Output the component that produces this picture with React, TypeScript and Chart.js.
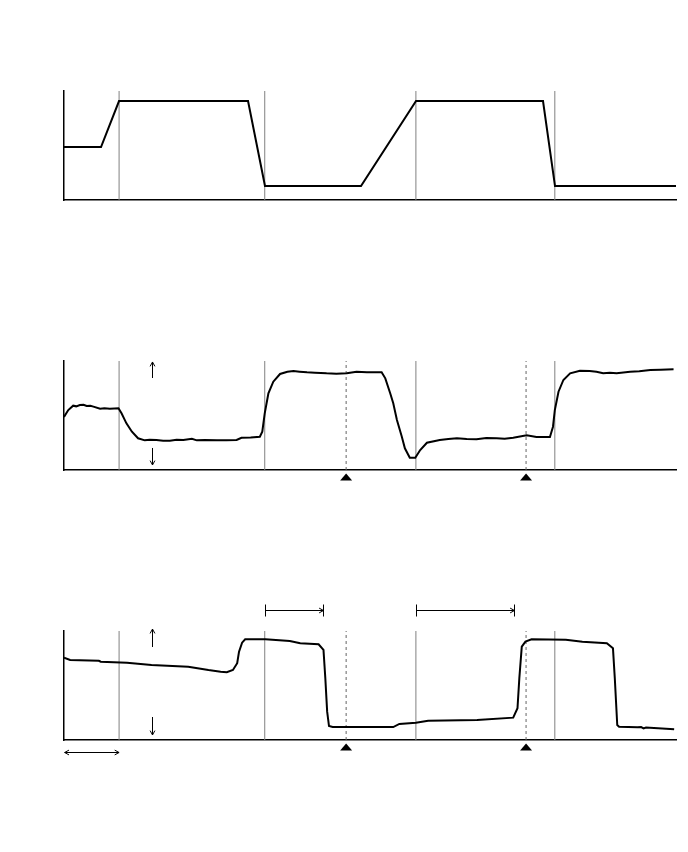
import React, { useEffect, useRef } from "react";
import { Chart, registerables } from "chart.js";

Chart.register(...registerables);

// time axis in % of record length, values in % of panel range
const eventTimes = [9.0, 32.8, 57.5, 80.2];
const markerTimes = [46.1, 75.5];
const markerLevel = -6.4;

const p1Time = [0, 6.05, 8.99, 30.07, 32.84, 48.53, 57.52, 78.27, 80.23, 100];
const p1Value = [48.6, 48.6, 90.8, 90.8, 12.8, 12.8, 90.8, 90.8, 12.8, 12.8];

const p2Time = [
  0.0, 0.7, 1.5, 2.0, 2.6, 3.2, 3.7, 4.3, 4.8, 5.9, 6.6, 7.5, 8.9, 9.4, 10.2, 11.1, 12.1, 13.2, 14.0,
  15.1, 16.2, 17.3, 18.4, 19.5, 20.9, 21.7, 23.0, 25.0, 26.5, 28.2, 29.0, 30.5, 32.0, 32.4, 32.8, 33.4,
  34.2, 35.3, 36.5, 37.5, 38.5, 39.7, 41.0, 42.9, 44.5, 46.2, 47.8, 49.5, 51.9, 52.5, 53.3, 53.8, 54.4,
  55.2, 55.7, 56.5, 57.4, 58.2, 59.3, 61.4, 62.8, 64.2, 65.8, 67.4, 69.0, 70.7, 72.0, 73.4, 75.6, 77.2,
  79.4, 79.9, 80.2, 80.8, 81.6, 82.7, 84.3, 85.9, 87.0, 88.1, 89.2, 90.3, 92.5, 94.0, 95.8, 97.5, 99.6,
];
const p2Value = [
  48.6, 55.0, 59.0, 58.4, 59.6, 59.9, 58.7, 59.0, 58.1, 56.2, 56.6, 56.2, 56.6, 52.0, 42.8, 35.1, 29.1,
  27.2, 27.8, 27.5, 26.9, 26.9, 27.8, 27.5, 28.7, 27.2, 27.5, 27.2, 27.2, 27.5, 29.6, 29.9, 30.5, 35.1,
  52.0, 70.4, 81.0, 88.1, 90.2, 90.8, 90.2, 89.6, 89.3, 88.7, 88.4, 88.7, 90.2, 89.6, 89.6, 84.1, 70.4,
  61.2, 45.9, 30.5, 19.9, 11.3, 11.3, 18.3, 25.0, 27.5, 28.4, 29.1, 28.4, 28.2, 29.3, 29.1, 28.7, 29.6,
  31.8, 30.3, 30.3, 39.7, 55.0, 71.8, 82.6, 88.7, 91.1, 90.8, 90.2, 88.7, 89.3, 88.7, 90.2, 90.5, 91.7,
  92.0, 92.4,
];

const p3Time = [
  0.0, 1.0, 5.7, 6.0, 10.3, 14.3, 20.3, 23.6, 25.6, 26.6, 27.6, 28.3, 28.6, 29.1, 29.6, 32.9, 36.9,
  38.6, 41.6, 42.4, 42.7, 43.0, 43.3, 43.9, 53.8, 54.8, 57.5, 59.5, 67.5, 73.4, 74.1, 74.4, 74.8,
  75.4, 76.4, 82.0, 84.7, 88.7, 89.7, 90.0, 90.4, 90.7, 93.7, 94.3, 94.7, 95.1, 99.7,
];
const p3Value = [
  75.5, 73.4, 72.7, 71.8, 70.9, 68.8, 67.2, 64.2, 62.7, 62.1, 64.2, 70.4, 81.0, 89.3, 92.4, 92.4, 90.8,
  88.7, 87.8, 82.6, 56.6, 26.0, 12.8, 11.9, 11.9, 14.7, 15.9, 17.7, 18.3, 20.5, 29.1, 56.6, 85.6,
  90.2, 92.4, 92.0, 90.2, 88.7, 84.1, 56.6, 13.8, 12.2, 11.7, 11.9, 10.7, 11.5, 9.8,
];

// annotation values (same units)
const rangeArrowTime = 14.4;
const p2UpArrow = [84.4, 99.1];
const p2DownArrow = [20.2, 4.6];
const p3UpArrow = [85.3, 101.8];
const p3DownArrow = [21.1, 4.6];
const p3Brackets = [
  [32.8, 42.3],
  [57.5, 73.5],
];
const bracketLevel = 119.3;
const spanArrow = [0.1, 9.0];
const spanLevel = -11.0;

type Ann = {
  vArrows?: number[][];
  brackets?: number[][];
  spans?: number[][];
  markers?: boolean;
};

function head(ctx: CanvasRenderingContext2D, x: number, y: number, dx: number, dy: number) {
  const len = 5;
  const ang = Math.atan2(dy, dx);
  ctx.beginPath();
  ctx.moveTo(x - len * Math.cos(ang - 0.5), y - len * Math.sin(ang - 0.5));
  ctx.lineTo(x, y);
  ctx.lineTo(x - len * Math.cos(ang + 0.5), y - len * Math.sin(ang + 0.5));
  ctx.stroke();
}

function makeAnnPlugin(ann: Ann) {
  return {
    id: "ann",
    afterDatasetsDraw(chart: any) {
      const xs = chart.scales.x;
      const ys = chart.scales.y;
      const ctx: CanvasRenderingContext2D = chart.ctx;
      ctx.save();
      ctx.strokeStyle = "#000";
      ctx.fillStyle = "#000";
      ctx.lineWidth = 1;
      if (ann.markers) {
        markerTimes.forEach((t) => {
          const x = xs.getPixelForValue(t);
          const y = ys.getPixelForValue(markerLevel);
          ctx.beginPath();
          ctx.moveTo(x, y - 3.5);
          ctx.lineTo(x + 6, y + 3.5);
          ctx.lineTo(x - 6, y + 3.5);
          ctx.closePath();
          ctx.fill();
        });
      }
      (ann.vArrows || []).forEach(([from, to]) => {
        const x = Math.round(xs.getPixelForValue(rangeArrowTime)) + 0.5;
        const y0 = ys.getPixelForValue(from);
        const y1 = ys.getPixelForValue(to);
        ctx.beginPath();
        ctx.moveTo(x, y0);
        ctx.lineTo(x, y1);
        ctx.stroke();
        head(ctx, x, y1, 0, y1 - y0);
      });
      (ann.brackets || []).forEach(([a, b]) => {
        const x0 = Math.round(xs.getPixelForValue(a)) + 0.5;
        const x1 = Math.round(xs.getPixelForValue(b)) + 0.5;
        const y = Math.round(ys.getPixelForValue(bracketLevel)) + 0.5;
        ctx.beginPath();
        ctx.moveTo(x0, y);
        ctx.lineTo(x1, y);
        ctx.moveTo(x0, y - 6);
        ctx.lineTo(x0, y + 6);
        ctx.moveTo(x1, y - 6);
        ctx.lineTo(x1, y + 6);
        ctx.stroke();
        head(ctx, x1, y, 1, 0);
      });
      (ann.spans || []).forEach(([a, b]) => {
        const x0 = xs.getPixelForValue(a);
        const x1 = xs.getPixelForValue(b);
        const y = Math.round(ys.getPixelForValue(spanLevel)) + 0.5;
        ctx.beginPath();
        ctx.moveTo(x0, y);
        ctx.lineTo(x1, y);
        ctx.stroke();
        head(ctx, x1, y, 1, 0);
        head(ctx, x0, y, -1, 0);
      });
      ctx.restore();
    },
  };
}

type PanelProps = {
  time: number[];
  value: number[];
  markers: boolean;
  ann: Ann;
  top: number;
  height: number;
  padTop: number;
  padBottom: number;
};

function Panel({ time, value, markers, ann, top, height, padTop, padBottom }: PanelProps) {
  const ref = useRef<HTMLCanvasElement>(null);
  useEffect(() => {
    if (!ref.current) return;
    const datasets: any[] = [
      {
        data: time.map((t, i) => ({ x: t, y: value[i] })),
        borderColor: "#000",
        borderWidth: 2,
        pointRadius: 0,
        tension: 0,
        fill: false,
      },
    ];
    if (markers) {
      markerTimes.forEach((t) => {
        datasets.push({
          data: [
            { x: t, y: 0 },
            { x: t, y: 100 },
          ],
          borderColor: "#666",
          borderWidth: 1,
          borderDash: [3, 3],
          pointRadius: 0,
        });
      });
    }
    eventTimes.forEach((t) => {
      datasets.push({
        data: [
          { x: t, y: 0 },
          { x: t, y: 100 },
        ],
        borderColor: "#808080",
        borderWidth: 1,
        pointRadius: 0,
      });
    });
    const chart = new Chart(ref.current, {
      type: "line",
      data: { datasets },
      options: {
        responsive: false,
        animation: false,
        events: [],
        layout: { padding: { left: 64, right: 12, top: padTop, bottom: padBottom } },
        plugins: { legend: { display: false }, tooltip: { enabled: false } },
        scales: {
          x: {
            type: "linear",
            min: 0,
            max: 100,
            grid: { display: false, drawTicks: false },
            ticks: { display: false },
            border: { display: true, color: "#000", width: 1.5 },
          },
          y: {
            type: "linear",
            min: 0,
            max: 100,
            grid: { display: false, drawTicks: false },
            ticks: { display: false },
            border: { display: true, color: "#000", width: 1.5 },
          },
        },
      },
      plugins: [makeAnnPlugin({ ...ann, markers })],
    });
    return () => chart.destroy();
  }, []);
  return (
    <canvas
      ref={ref}
      width={688}
      height={height}
      style={{ position: "absolute", left: 0, top, width: 688, height }}
    />
  );
}

export default function App() {
  return (
    <div style={{ position: "absolute", left: 0, top: 0, width: 688, height: 852, background: "#fff" }}>
      <Panel time={p1Time} value={p1Value} markers={false} ann={{}} top={70} height={150} padTop={21} padBottom={20} />
      <Panel
        time={p2Time}
        value={p2Value}
        markers={true}
        ann={{ vArrows: [p2UpArrow, p2DownArrow] }}
        top={340}
        height={150}
        padTop={21}
        padBottom={20}
      />
      <Panel
        time={p3Time}
        value={p3Value}
        markers={true}
        ann={{ vArrows: [p3UpArrow, p3DownArrow], brackets: p3Brackets, spans: [spanArrow] }}
        top={590}
        height={180}
        padTop={41}
        padBottom={30}
      />
    </div>
  );
}
